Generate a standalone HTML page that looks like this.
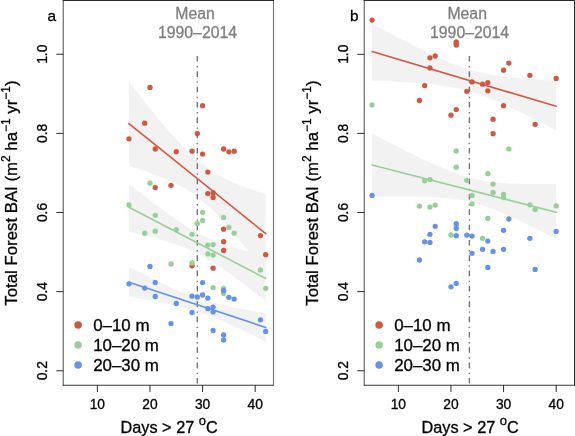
<!DOCTYPE html>
<html><head><meta charset="utf-8"><style>
html,body{margin:0;padding:0;background:#fff;}
svg{display:block;will-change:transform;}
text{font-family:"Liberation Sans", sans-serif;fill:#000;stroke:#000;stroke-width:0.3px;}
text.g{fill:#7f7f7f;stroke:#7f7f7f;}
</style></head><body>
<svg width="575" height="436" viewBox="0 0 575 436">
<rect width="575" height="436" fill="#fff"/>
<polygon fill="#F2F2F2" points="128.94,81.65 130.68,83.87 132.41,86.09 134.14,88.30 135.87,90.51 137.60,92.71 139.33,94.91 141.06,97.10 142.79,99.29 144.53,101.47 146.26,103.64 147.99,105.81 149.72,107.97 151.45,110.12 153.18,112.26 154.91,114.39 156.64,116.52 158.37,118.63 160.11,120.73 161.84,122.81 163.57,124.89 165.30,126.95 167.03,128.99 168.76,131.01 170.49,133.02 172.22,135.01 173.95,136.97 175.69,138.92 177.42,140.83 179.15,142.72 180.88,144.59 182.61,146.42 184.34,148.22 186.07,149.98 187.80,151.71 189.53,153.39 191.27,155.04 193.00,156.65 194.73,158.21 196.46,159.72 198.19,161.19 199.92,162.62 201.65,164.00 203.38,165.33 205.11,166.61 206.85,167.85 208.58,169.04 210.31,170.20 212.04,171.31 213.77,172.38 215.50,173.41 217.23,174.41 218.96,175.37 220.70,176.30 222.43,177.21 224.16,178.08 225.89,178.93 227.62,179.76 229.35,180.56 231.08,181.35 232.81,182.11 234.54,182.86 236.28,183.59 238.01,184.30 239.74,185.00 241.47,185.69 243.20,186.36 244.93,187.03 246.66,187.68 248.39,188.33 250.12,188.96 251.86,189.59 253.59,190.21 255.32,190.82 257.05,191.42 258.78,192.02 260.51,192.61 262.24,193.20 263.97,193.78 265.70,194.36 265.70,272.84 263.97,270.64 262.24,268.43 260.51,266.24 258.78,264.05 257.05,261.87 255.32,259.69 253.59,257.52 251.86,255.35 250.12,253.20 248.39,251.05 246.66,248.91 244.93,246.78 243.20,244.67 241.47,242.56 239.74,240.46 238.01,238.38 236.28,236.32 234.54,234.26 232.81,232.23 231.08,230.21 229.35,228.21 227.62,226.23 225.89,224.27 224.16,222.34 222.43,220.44 220.70,218.56 218.96,216.71 217.23,214.89 215.50,213.10 213.77,211.35 212.04,209.64 210.31,207.97 208.58,206.34 206.85,204.75 205.11,203.21 203.38,201.71 201.65,200.26 199.92,198.86 198.19,197.50 196.46,196.19 194.73,194.92 193.00,193.70 191.27,192.52 189.53,191.39 187.80,190.29 186.07,189.24 184.34,188.22 182.61,187.23 180.88,186.28 179.15,185.36 177.42,184.47 175.69,183.61 173.95,182.77 172.22,181.95 170.49,181.15 168.76,180.38 167.03,179.62 165.30,178.88 163.57,178.16 161.84,177.45 160.11,176.75 158.37,176.07 156.64,175.40 154.91,174.74 153.18,174.09 151.45,173.45 149.72,172.82 147.99,172.20 146.26,171.58 144.53,170.97 142.79,170.37 141.06,169.77 139.33,169.18 137.60,168.60 135.87,168.02 134.14,167.44 132.41,166.87 130.68,166.31 128.94,165.75"/>
<polygon fill="#F2F2F2" points="128.94,183.88 130.68,185.25 132.41,186.61 134.14,187.98 135.87,189.34 137.60,190.69 139.33,192.05 141.06,193.40 142.79,194.74 144.53,196.09 146.26,197.43 147.99,198.76 149.72,200.09 151.45,201.42 153.18,202.74 154.91,204.05 156.64,205.36 158.37,206.66 160.11,207.96 161.84,209.25 163.57,210.53 165.30,211.80 167.03,213.06 168.76,214.31 170.49,215.55 172.22,216.78 173.95,217.99 175.69,219.19 177.42,220.38 179.15,221.55 180.88,222.70 182.61,223.84 184.34,224.95 186.07,226.05 187.80,227.13 189.53,228.18 191.27,229.21 193.00,230.21 194.73,231.19 196.46,232.14 198.19,233.07 199.92,233.97 201.65,234.85 203.38,235.69 205.11,236.52 206.85,237.32 208.58,238.09 210.31,238.84 212.04,239.56 213.77,240.27 215.50,240.95 217.23,241.62 218.96,242.26 220.70,242.89 222.43,243.51 224.16,244.10 225.89,244.69 227.62,245.26 229.35,245.82 231.08,246.36 232.81,246.90 234.54,247.43 236.28,247.94 238.01,248.45 239.74,248.96 241.47,249.45 243.20,249.94 244.93,250.42 246.66,250.90 248.39,251.37 250.12,251.83 251.86,252.29 253.59,252.75 255.32,253.20 257.05,253.65 258.78,254.10 260.51,254.54 262.24,254.98 263.97,255.42 265.70,255.85 265.70,301.15 263.97,299.79 262.24,298.43 260.51,297.07 258.78,295.72 257.05,294.37 255.32,293.03 253.59,291.68 251.86,290.35 250.12,289.01 248.39,287.68 246.66,286.36 244.93,285.04 243.20,283.73 241.47,282.42 239.74,281.12 238.01,279.83 236.28,278.54 234.54,277.26 232.81,276.00 231.08,274.74 229.35,273.49 227.62,272.25 225.89,271.03 224.16,269.82 222.43,268.62 220.70,267.44 218.96,266.27 217.23,265.12 215.50,263.99 213.77,262.88 212.04,261.79 210.31,260.72 208.58,259.68 206.85,258.66 205.11,257.66 203.38,256.69 201.65,255.74 199.92,254.82 198.19,253.93 196.46,253.06 194.73,252.22 193.00,251.40 191.27,250.61 189.53,249.85 187.80,249.10 186.07,248.38 184.34,247.68 182.61,247.00 180.88,246.35 179.15,245.70 177.42,245.08 175.69,244.47 173.95,243.88 172.22,243.30 170.49,242.73 168.76,242.18 167.03,241.63 165.30,241.10 163.57,240.57 161.84,240.06 160.11,239.55 158.37,239.05 156.64,238.56 154.91,238.07 153.18,237.59 151.45,237.12 149.72,236.65 147.99,236.18 146.26,235.72 144.53,235.27 142.79,234.82 141.06,234.37 139.33,233.92 137.60,233.48 135.87,233.04 134.14,232.61 132.41,232.18 130.68,231.75 128.94,231.32"/>
<polygon fill="#F2F2F2" points="128.94,266.98 130.68,267.85 132.41,268.72 134.14,269.59 135.87,270.46 137.60,271.32 139.33,272.19 141.06,273.05 142.79,273.91 144.53,274.76 146.26,275.62 147.99,276.47 149.72,277.31 151.45,278.16 153.18,279.00 154.91,279.84 156.64,280.68 158.37,281.51 160.11,282.33 161.84,283.15 163.57,283.97 165.30,284.78 167.03,285.58 168.76,286.38 170.49,287.17 172.22,287.96 173.95,288.73 175.69,289.50 177.42,290.26 179.15,291.01 180.88,291.74 182.61,292.47 184.34,293.18 186.07,293.88 187.80,294.57 189.53,295.24 191.27,295.90 193.00,296.55 194.73,297.17 196.46,297.78 198.19,298.38 199.92,298.96 201.65,299.52 203.38,300.06 205.11,300.59 206.85,301.11 208.58,301.60 210.31,302.09 212.04,302.55 213.77,303.01 215.50,303.45 217.23,303.88 218.96,304.30 220.70,304.71 222.43,305.10 224.16,305.49 225.89,305.87 227.62,306.24 229.35,306.60 231.08,306.96 232.81,307.31 234.54,307.65 236.28,307.99 238.01,308.32 239.74,308.65 241.47,308.97 243.20,309.29 244.93,309.60 246.66,309.91 248.39,310.22 250.12,310.52 251.86,310.83 253.59,311.12 255.32,311.42 257.05,311.71 258.78,312.01 260.51,312.30 262.24,312.58 263.97,312.87 265.70,313.15 265.70,341.65 263.97,340.78 262.24,339.91 260.51,339.05 258.78,338.19 257.05,337.33 255.32,336.47 253.59,335.61 251.86,334.76 250.12,333.91 248.39,333.06 246.66,332.22 244.93,331.38 243.20,330.54 241.47,329.71 239.74,328.88 238.01,328.05 236.28,327.23 234.54,326.42 232.81,325.61 231.08,324.81 229.35,324.01 227.62,323.22 225.89,322.44 224.16,321.66 222.43,320.90 220.70,320.15 218.96,319.40 217.23,318.67 215.50,317.94 213.77,317.23 212.04,316.54 210.31,315.85 208.58,315.18 206.85,314.53 205.11,313.89 203.38,313.27 201.65,312.66 199.92,312.07 198.19,311.50 196.46,310.94 194.73,310.40 193.00,309.88 191.27,309.37 189.53,308.87 187.80,308.39 186.07,307.93 184.34,307.48 182.61,307.04 180.88,306.61 179.15,306.20 177.42,305.80 175.69,305.40 173.95,305.02 172.22,304.64 170.49,304.27 168.76,303.91 167.03,303.56 165.30,303.21 163.57,302.87 161.84,302.53 160.11,302.20 158.37,301.88 156.64,301.56 154.91,301.24 153.18,300.92 151.45,300.61 149.72,300.31 147.99,300.00 146.26,299.70 144.53,299.41 142.79,299.11 141.06,298.82 139.33,298.53 137.60,298.24 135.87,297.95 134.14,297.66 132.41,297.38 130.68,297.10 128.94,296.82"/>
<line x1="197.32" y1="56" x2="197.32" y2="385" stroke="#707070" stroke-width="1.35" stroke-dasharray="5.6 4.5 1.4 3.83"/>
<line x1="128.94" y1="123.60" x2="265.70" y2="233.60" stroke="#CF5841" stroke-width="1.6" stroke-linecap="round"/>
<line x1="128.94" y1="207.20" x2="265.70" y2="278.50" stroke="#98CE98" stroke-width="1.6" stroke-linecap="round"/>
<line x1="128.94" y1="282.20" x2="265.70" y2="327.40" stroke="#6492EA" stroke-width="1.6" stroke-linecap="round"/>
<circle cx="149.98" cy="87.40" r="2.65" fill="#CF5841"/>
<circle cx="202.58" cy="105.70" r="2.65" fill="#CF5841"/>
<circle cx="144.72" cy="123.20" r="2.65" fill="#CF5841"/>
<circle cx="197.32" cy="133.60" r="2.65" fill="#CF5841"/>
<circle cx="128.94" cy="138.80" r="2.65" fill="#CF5841"/>
<circle cx="155.24" cy="149.00" r="2.65" fill="#CF5841"/>
<circle cx="176.28" cy="151.70" r="2.65" fill="#CF5841"/>
<circle cx="192.06" cy="151.20" r="2.65" fill="#CF5841"/>
<circle cx="202.58" cy="154.10" r="2.65" fill="#CF5841"/>
<circle cx="223.62" cy="149.00" r="2.65" fill="#CF5841"/>
<circle cx="228.88" cy="151.80" r="2.65" fill="#CF5841"/>
<circle cx="234.14" cy="151.20" r="2.65" fill="#CF5841"/>
<circle cx="207.84" cy="172.10" r="2.65" fill="#CF5841"/>
<circle cx="155.24" cy="187.60" r="2.65" fill="#CF5841"/>
<circle cx="171.02" cy="185.30" r="2.65" fill="#CF5841"/>
<circle cx="207.84" cy="193.60" r="2.65" fill="#CF5841"/>
<circle cx="213.10" cy="192.70" r="2.65" fill="#CF5841"/>
<circle cx="213.10" cy="197.40" r="2.65" fill="#CF5841"/>
<circle cx="223.62" cy="229.20" r="2.65" fill="#CF5841"/>
<circle cx="260.44" cy="235.60" r="2.65" fill="#CF5841"/>
<circle cx="223.62" cy="241.70" r="2.65" fill="#CF5841"/>
<circle cx="223.62" cy="250.50" r="2.65" fill="#CF5841"/>
<circle cx="265.70" cy="254.70" r="2.65" fill="#CF5841"/>
<circle cx="192.06" cy="265.80" r="2.65" fill="#CF5841"/>
<circle cx="213.10" cy="268.20" r="2.65" fill="#CF5841"/>
<circle cx="149.98" cy="183.20" r="2.65" fill="#98CE98"/>
<circle cx="128.94" cy="204.90" r="2.65" fill="#98CE98"/>
<circle cx="155.24" cy="215.30" r="2.65" fill="#98CE98"/>
<circle cx="144.72" cy="233.20" r="2.65" fill="#98CE98"/>
<circle cx="155.24" cy="231.20" r="2.65" fill="#98CE98"/>
<circle cx="176.28" cy="229.70" r="2.65" fill="#98CE98"/>
<circle cx="192.06" cy="234.30" r="2.65" fill="#98CE98"/>
<circle cx="197.32" cy="223.50" r="2.65" fill="#98CE98"/>
<circle cx="202.58" cy="212.30" r="2.65" fill="#98CE98"/>
<circle cx="202.58" cy="220.40" r="2.65" fill="#98CE98"/>
<circle cx="223.62" cy="217.40" r="2.65" fill="#98CE98"/>
<circle cx="228.88" cy="227.40" r="2.65" fill="#98CE98"/>
<circle cx="234.14" cy="233.20" r="2.65" fill="#98CE98"/>
<circle cx="207.84" cy="245.10" r="2.65" fill="#98CE98"/>
<circle cx="213.10" cy="244.60" r="2.65" fill="#98CE98"/>
<circle cx="207.84" cy="253.90" r="2.65" fill="#98CE98"/>
<circle cx="213.10" cy="255.10" r="2.65" fill="#98CE98"/>
<circle cx="171.02" cy="263.90" r="2.65" fill="#98CE98"/>
<circle cx="192.06" cy="262.90" r="2.65" fill="#98CE98"/>
<circle cx="260.44" cy="269.90" r="2.65" fill="#98CE98"/>
<circle cx="265.70" cy="288.30" r="2.65" fill="#98CE98"/>
<circle cx="213.10" cy="287.70" r="2.65" fill="#98CE98"/>
<circle cx="223.62" cy="288.40" r="2.65" fill="#98CE98"/>
<circle cx="223.62" cy="293.50" r="2.65" fill="#98CE98"/>
<circle cx="149.98" cy="266.50" r="2.65" fill="#6492EA"/>
<circle cx="128.94" cy="283.80" r="2.65" fill="#6492EA"/>
<circle cx="144.72" cy="288.10" r="2.65" fill="#6492EA"/>
<circle cx="155.24" cy="282.50" r="2.65" fill="#6492EA"/>
<circle cx="155.24" cy="296.50" r="2.65" fill="#6492EA"/>
<circle cx="176.28" cy="303.50" r="2.65" fill="#6492EA"/>
<circle cx="192.06" cy="296.20" r="2.65" fill="#6492EA"/>
<circle cx="197.32" cy="297.00" r="2.65" fill="#6492EA"/>
<circle cx="202.58" cy="295.00" r="2.65" fill="#6492EA"/>
<circle cx="202.58" cy="282.60" r="2.65" fill="#6492EA"/>
<circle cx="207.84" cy="298.10" r="2.65" fill="#6492EA"/>
<circle cx="223.62" cy="290.60" r="2.65" fill="#6492EA"/>
<circle cx="228.88" cy="297.30" r="2.65" fill="#6492EA"/>
<circle cx="234.14" cy="299.10" r="2.65" fill="#6492EA"/>
<circle cx="192.06" cy="312.50" r="2.65" fill="#6492EA"/>
<circle cx="207.84" cy="308.70" r="2.65" fill="#6492EA"/>
<circle cx="213.10" cy="307.10" r="2.65" fill="#6492EA"/>
<circle cx="213.10" cy="311.90" r="2.65" fill="#6492EA"/>
<circle cx="171.02" cy="323.60" r="2.65" fill="#6492EA"/>
<circle cx="260.44" cy="319.80" r="2.65" fill="#6492EA"/>
<circle cx="265.70" cy="331.40" r="2.65" fill="#6492EA"/>
<circle cx="213.10" cy="330.50" r="2.65" fill="#6492EA"/>
<circle cx="223.62" cy="335.00" r="2.65" fill="#6492EA"/>
<circle cx="223.62" cy="340.00" r="2.65" fill="#6492EA"/>
<line x1="63.25" y1="0" x2="63.25" y2="385.7" stroke="#555" stroke-width="1.05"/>
<line x1="273.50" y1="0" x2="273.50" y2="385.7" stroke="#707070" stroke-width="1.10"/>
<line x1="62.75" y1="385.2" x2="274.00" y2="385.2" stroke="#3a3a3a" stroke-width="1.05"/>
<line x1="62.75" y1="0.45" x2="274.00" y2="0.45" stroke="#2a2a2a" stroke-width="1.05"/>
<line x1="56.30" y1="370.76" x2="63.25" y2="370.76" stroke="#2a2a2a" stroke-width="1"/>
<text transform="translate(47.40,370.76) rotate(-90)" text-anchor="middle" font-size="13.8">0.2</text>
<line x1="56.30" y1="291.64" x2="63.25" y2="291.64" stroke="#2a2a2a" stroke-width="1"/>
<text transform="translate(47.40,291.64) rotate(-90)" text-anchor="middle" font-size="13.8">0.4</text>
<line x1="56.30" y1="212.52" x2="63.25" y2="212.52" stroke="#2a2a2a" stroke-width="1"/>
<text transform="translate(47.40,212.52) rotate(-90)" text-anchor="middle" font-size="13.8">0.6</text>
<line x1="56.30" y1="133.40" x2="63.25" y2="133.40" stroke="#2a2a2a" stroke-width="1"/>
<text transform="translate(47.40,133.40) rotate(-90)" text-anchor="middle" font-size="13.8">0.8</text>
<line x1="56.30" y1="54.28" x2="63.25" y2="54.28" stroke="#2a2a2a" stroke-width="1"/>
<text transform="translate(47.40,54.28) rotate(-90)" text-anchor="middle" font-size="13.8">1.0</text>
<line x1="97.38" y1="385" x2="97.38" y2="392" stroke="#2a2a2a" stroke-width="1"/>
<text x="97.38" y="409.2" text-anchor="middle" font-size="13.8">10</text>
<line x1="149.98" y1="385" x2="149.98" y2="392" stroke="#2a2a2a" stroke-width="1"/>
<text x="149.98" y="409.2" text-anchor="middle" font-size="13.8">20</text>
<line x1="202.58" y1="385" x2="202.58" y2="392" stroke="#2a2a2a" stroke-width="1"/>
<text x="202.58" y="409.2" text-anchor="middle" font-size="13.8">30</text>
<line x1="255.18" y1="385" x2="255.18" y2="392" stroke="#2a2a2a" stroke-width="1"/>
<text x="255.18" y="409.2" text-anchor="middle" font-size="13.8">40</text>
<text x="120.50" y="432.5" font-size="16.3">Days &gt; 27 <tspan font-size="13" dy="-7.5">o</tspan><tspan dy="7.5">C</tspan></text>
<text transform="translate(16.90,193) rotate(-90)" text-anchor="middle" font-size="16.8">Total Forest BAI (m<tspan font-size="12" dy="-6.5">2</tspan><tspan dy="6.5"> ha</tspan><tspan font-size="12" dy="-6.5">−1</tspan><tspan dy="6.5"> yr</tspan><tspan font-size="12" dy="-6.5">−1</tspan><tspan dy="6.5">)</tspan></text>
<text x="47.60" y="21.2" font-size="15.4" style="stroke-width:0.3px">a</text>
<text x="195.12" y="18.6" text-anchor="middle" font-size="15.8" class="g">Mean</text>
<text x="197.52" y="38.4" text-anchor="middle" font-size="15.8" class="g">1990–2014</text>
<circle cx="78.10" cy="324.90" r="3.75" fill="#CF5841"/>
<text x="93.20" y="330.50" font-size="16.9">0–10 m</text>
<circle cx="78.10" cy="345.00" r="3.75" fill="#98CE98"/>
<text x="93.20" y="350.50" font-size="16.9">10–20 m</text>
<circle cx="78.10" cy="365.10" r="3.75" fill="#6492EA"/>
<text x="93.20" y="370.50" font-size="16.9">20–30 m</text>
<polygon fill="#F2F2F2" points="372.08,23.99 374.42,25.23 376.75,26.47 379.08,27.71 381.41,28.94 383.74,30.17 386.07,31.40 388.40,32.63 390.73,33.85 393.06,35.07 395.39,36.28 397.72,37.50 400.05,38.70 402.38,39.91 404.71,41.11 407.04,42.30 409.37,43.49 411.70,44.67 414.03,45.85 416.36,47.02 418.69,48.18 421.02,49.33 423.35,50.47 425.68,51.61 428.01,52.73 430.34,53.85 432.67,54.95 435.01,56.03 437.34,57.11 439.67,58.16 442.00,59.20 444.33,60.22 446.66,61.22 448.99,62.20 451.32,63.15 453.65,64.08 455.98,64.98 458.31,65.86 460.64,66.70 462.97,67.51 465.30,68.29 467.63,69.03 469.96,69.74 472.29,70.42 474.62,71.06 476.95,71.67 479.28,72.24 481.61,72.78 483.94,73.29 486.27,73.77 488.60,74.22 490.93,74.64 493.26,75.04 495.59,75.41 497.93,75.76 500.26,76.09 502.59,76.40 504.92,76.70 507.25,76.98 509.58,77.24 511.91,77.49 514.24,77.73 516.57,77.96 518.90,78.17 521.23,78.38 523.56,78.58 525.89,78.76 528.22,78.95 530.55,79.12 532.88,79.29 535.21,79.45 537.54,79.61 539.87,79.76 542.20,79.91 544.53,80.05 546.86,80.19 549.19,80.32 551.52,80.46 553.85,80.58 556.18,80.71 556.18,130.39 553.85,129.17 551.52,127.94 549.19,126.72 546.86,125.51 544.53,124.30 542.20,123.09 539.87,121.89 537.54,120.69 535.21,119.49 532.88,118.30 530.55,117.12 528.22,115.95 525.89,114.78 523.56,113.62 521.23,112.46 518.90,111.32 516.57,110.18 514.24,109.06 511.91,107.95 509.58,106.85 507.25,105.76 504.92,104.69 502.59,103.63 500.26,102.59 497.93,101.57 495.59,100.57 493.26,99.60 490.93,98.64 488.60,97.72 486.27,96.81 483.94,95.94 481.61,95.10 479.28,94.29 476.95,93.51 474.62,92.77 472.29,92.06 469.96,91.38 467.63,90.74 465.30,90.14 462.97,89.57 460.64,89.03 458.31,88.52 455.98,88.04 453.65,87.59 451.32,87.17 448.99,86.77 446.66,86.40 444.33,86.05 442.00,85.72 439.67,85.41 437.34,85.11 435.01,84.83 432.67,84.57 430.34,84.32 428.01,84.08 425.68,83.85 423.35,83.64 421.02,83.43 418.69,83.24 416.36,83.05 414.03,82.87 411.70,82.69 409.37,82.52 407.04,82.36 404.71,82.20 402.38,82.05 400.05,81.90 397.72,81.76 395.39,81.62 393.06,81.49 390.73,81.36 388.40,81.23 386.07,81.10 383.74,80.98 381.41,80.86 379.08,80.75 376.75,80.63 374.42,80.52 372.08,80.41"/>
<polygon fill="#F2F2F2" points="372.08,133.47 374.42,134.69 376.75,135.90 379.08,137.12 381.41,138.33 383.74,139.54 386.07,140.74 388.40,141.95 390.73,143.15 393.06,144.34 395.39,145.54 397.72,146.72 400.05,147.91 402.38,149.09 404.71,150.26 407.04,151.43 409.37,152.59 411.70,153.74 414.03,154.89 416.36,156.03 418.69,157.17 421.02,158.29 423.35,159.41 425.68,160.51 428.01,161.60 430.34,162.68 432.67,163.75 435.01,164.80 437.34,165.84 439.67,166.86 442.00,167.85 444.33,168.83 446.66,169.79 448.99,170.72 451.32,171.63 453.65,172.51 455.98,173.36 458.31,174.17 460.64,174.96 462.97,175.71 465.30,176.42 467.63,177.09 469.96,177.73 472.29,178.33 474.62,178.89 476.95,179.41 479.28,179.89 481.61,180.34 483.94,180.75 486.27,181.12 488.60,181.46 490.93,181.78 493.26,182.06 495.59,182.32 497.93,182.55 500.26,182.75 502.59,182.94 504.92,183.11 507.25,183.25 509.58,183.38 511.91,183.50 514.24,183.60 516.57,183.69 518.90,183.76 521.23,183.83 523.56,183.88 525.89,183.93 528.22,183.97 530.55,184.00 532.88,184.02 535.21,184.03 537.54,184.04 539.87,184.04 542.20,184.04 544.53,184.03 546.86,184.02 549.19,184.01 551.52,183.99 553.85,183.96 556.18,183.93 556.18,239.07 553.85,237.86 551.52,236.67 549.19,235.47 546.86,234.28 544.53,233.10 542.20,231.92 539.87,230.74 537.54,229.57 535.21,228.41 532.88,227.25 530.55,226.10 528.22,224.95 525.89,223.82 523.56,222.69 521.23,221.57 518.90,220.46 516.57,219.36 514.24,218.28 511.91,217.21 509.58,216.15 507.25,215.11 504.92,214.08 502.59,213.07 500.26,212.08 497.93,211.12 495.59,210.18 493.26,209.26 490.93,208.37 488.60,207.51 486.27,206.68 483.94,205.88 481.61,205.11 479.28,204.39 476.95,203.70 474.62,203.04 472.29,202.43 469.96,201.85 467.63,201.32 465.30,200.82 462.97,200.36 460.64,199.93 458.31,199.54 455.98,199.19 453.65,198.86 451.32,198.57 448.99,198.30 446.66,198.06 444.33,197.84 442.00,197.65 439.67,197.47 437.34,197.32 435.01,197.18 432.67,197.06 430.34,196.95 428.01,196.86 425.68,196.78 423.35,196.71 421.02,196.65 418.69,196.60 416.36,196.56 414.03,196.53 411.70,196.50 409.37,196.49 407.04,196.47 404.71,196.47 402.38,196.47 400.05,196.47 397.72,196.48 395.39,196.50 393.06,196.52 390.73,196.54 388.40,196.57 386.07,196.60 383.74,196.63 381.41,196.66 379.08,196.70 376.75,196.74 374.42,196.79 372.08,196.83"/>
<line x1="469.39" y1="56" x2="469.39" y2="385" stroke="#707070" stroke-width="1.35" stroke-dasharray="5.6 4.5 1.4 3.83"/>
<line x1="372.08" y1="51.50" x2="556.18" y2="106.30" stroke="#CF5841" stroke-width="1.6" stroke-linecap="round"/>
<line x1="372.08" y1="164.90" x2="556.18" y2="212.20" stroke="#98CE98" stroke-width="1.6" stroke-linecap="round"/>
<circle cx="372.08" cy="20.10" r="2.65" fill="#CF5841"/>
<circle cx="456.24" cy="41.80" r="2.65" fill="#CF5841"/>
<circle cx="456.24" cy="43.40" r="2.65" fill="#CF5841"/>
<circle cx="456.24" cy="45.00" r="2.65" fill="#CF5841"/>
<circle cx="429.94" cy="57.80" r="2.65" fill="#CF5841"/>
<circle cx="435.20" cy="56.00" r="2.65" fill="#CF5841"/>
<circle cx="429.94" cy="68.00" r="2.65" fill="#CF5841"/>
<circle cx="424.68" cy="85.60" r="2.65" fill="#CF5841"/>
<circle cx="419.42" cy="100.50" r="2.65" fill="#CF5841"/>
<circle cx="472.02" cy="81.90" r="2.65" fill="#CF5841"/>
<circle cx="466.76" cy="91.30" r="2.65" fill="#CF5841"/>
<circle cx="482.54" cy="84.20" r="2.65" fill="#CF5841"/>
<circle cx="487.80" cy="82.60" r="2.65" fill="#CF5841"/>
<circle cx="487.80" cy="90.80" r="2.65" fill="#CF5841"/>
<circle cx="503.58" cy="70.20" r="2.65" fill="#CF5841"/>
<circle cx="508.84" cy="63.10" r="2.65" fill="#CF5841"/>
<circle cx="503.58" cy="105.70" r="2.65" fill="#CF5841"/>
<circle cx="456.24" cy="109.60" r="2.65" fill="#CF5841"/>
<circle cx="450.98" cy="115.20" r="2.65" fill="#CF5841"/>
<circle cx="493.06" cy="119.20" r="2.65" fill="#CF5841"/>
<circle cx="493.06" cy="133.70" r="2.65" fill="#CF5841"/>
<circle cx="529.88" cy="75.30" r="2.65" fill="#CF5841"/>
<circle cx="556.18" cy="78.40" r="2.65" fill="#CF5841"/>
<circle cx="535.14" cy="124.30" r="2.65" fill="#CF5841"/>
<circle cx="372.08" cy="104.90" r="2.65" fill="#98CE98"/>
<circle cx="456.24" cy="150.90" r="2.65" fill="#98CE98"/>
<circle cx="456.24" cy="167.20" r="2.65" fill="#98CE98"/>
<circle cx="508.84" cy="148.90" r="2.65" fill="#98CE98"/>
<circle cx="487.80" cy="173.70" r="2.65" fill="#98CE98"/>
<circle cx="493.06" cy="184.10" r="2.65" fill="#98CE98"/>
<circle cx="493.06" cy="192.40" r="2.65" fill="#98CE98"/>
<circle cx="503.58" cy="194.40" r="2.65" fill="#98CE98"/>
<circle cx="503.58" cy="197.50" r="2.65" fill="#98CE98"/>
<circle cx="424.68" cy="180.80" r="2.65" fill="#98CE98"/>
<circle cx="429.94" cy="179.60" r="2.65" fill="#98CE98"/>
<circle cx="466.76" cy="180.30" r="2.65" fill="#98CE98"/>
<circle cx="472.02" cy="195.40" r="2.65" fill="#98CE98"/>
<circle cx="472.02" cy="203.80" r="2.65" fill="#98CE98"/>
<circle cx="419.42" cy="206.10" r="2.65" fill="#98CE98"/>
<circle cx="429.94" cy="207.10" r="2.65" fill="#98CE98"/>
<circle cx="435.20" cy="205.10" r="2.65" fill="#98CE98"/>
<circle cx="529.88" cy="204.80" r="2.65" fill="#98CE98"/>
<circle cx="535.14" cy="209.50" r="2.65" fill="#98CE98"/>
<circle cx="556.18" cy="205.90" r="2.65" fill="#98CE98"/>
<circle cx="487.80" cy="218.40" r="2.65" fill="#98CE98"/>
<circle cx="450.98" cy="235.00" r="2.65" fill="#98CE98"/>
<circle cx="482.54" cy="238.30" r="2.65" fill="#98CE98"/>
<circle cx="456.24" cy="226.20" r="2.65" fill="#98CE98"/>
<circle cx="372.08" cy="195.40" r="2.65" fill="#6492EA"/>
<circle cx="508.84" cy="219.00" r="2.65" fill="#6492EA"/>
<circle cx="435.20" cy="226.30" r="2.65" fill="#6492EA"/>
<circle cx="456.24" cy="223.70" r="2.65" fill="#6492EA"/>
<circle cx="456.24" cy="228.60" r="2.65" fill="#6492EA"/>
<circle cx="429.94" cy="234.30" r="2.65" fill="#6492EA"/>
<circle cx="456.24" cy="235.70" r="2.65" fill="#6492EA"/>
<circle cx="466.76" cy="235.10" r="2.65" fill="#6492EA"/>
<circle cx="472.02" cy="236.10" r="2.65" fill="#6492EA"/>
<circle cx="487.80" cy="241.10" r="2.65" fill="#6492EA"/>
<circle cx="503.58" cy="230.30" r="2.65" fill="#6492EA"/>
<circle cx="424.68" cy="241.80" r="2.65" fill="#6492EA"/>
<circle cx="429.94" cy="242.40" r="2.65" fill="#6492EA"/>
<circle cx="482.54" cy="249.30" r="2.65" fill="#6492EA"/>
<circle cx="493.06" cy="251.50" r="2.65" fill="#6492EA"/>
<circle cx="503.58" cy="249.30" r="2.65" fill="#6492EA"/>
<circle cx="472.02" cy="253.40" r="2.65" fill="#6492EA"/>
<circle cx="419.42" cy="260.00" r="2.65" fill="#6492EA"/>
<circle cx="487.80" cy="267.40" r="2.65" fill="#6492EA"/>
<circle cx="450.98" cy="286.80" r="2.65" fill="#6492EA"/>
<circle cx="456.24" cy="283.40" r="2.65" fill="#6492EA"/>
<circle cx="529.88" cy="238.30" r="2.65" fill="#6492EA"/>
<circle cx="556.18" cy="231.40" r="2.65" fill="#6492EA"/>
<circle cx="535.14" cy="269.40" r="2.65" fill="#6492EA"/>
<line x1="364.25" y1="0" x2="364.25" y2="385.7" stroke="#555" stroke-width="1.05"/>
<line x1="574.50" y1="0" x2="574.50" y2="385.7" stroke="#2a2a2a" stroke-width="1.05"/>
<line x1="363.75" y1="385.2" x2="575.00" y2="385.2" stroke="#3a3a3a" stroke-width="1.05"/>
<line x1="363.75" y1="0.45" x2="575.00" y2="0.45" stroke="#2a2a2a" stroke-width="1.05"/>
<line x1="357.30" y1="370.76" x2="364.25" y2="370.76" stroke="#2a2a2a" stroke-width="1"/>
<text transform="translate(348.40,370.76) rotate(-90)" text-anchor="middle" font-size="13.8">0.2</text>
<line x1="357.30" y1="291.64" x2="364.25" y2="291.64" stroke="#2a2a2a" stroke-width="1"/>
<text transform="translate(348.40,291.64) rotate(-90)" text-anchor="middle" font-size="13.8">0.4</text>
<line x1="357.30" y1="212.52" x2="364.25" y2="212.52" stroke="#2a2a2a" stroke-width="1"/>
<text transform="translate(348.40,212.52) rotate(-90)" text-anchor="middle" font-size="13.8">0.6</text>
<line x1="357.30" y1="133.40" x2="364.25" y2="133.40" stroke="#2a2a2a" stroke-width="1"/>
<text transform="translate(348.40,133.40) rotate(-90)" text-anchor="middle" font-size="13.8">0.8</text>
<line x1="357.30" y1="54.28" x2="364.25" y2="54.28" stroke="#2a2a2a" stroke-width="1"/>
<text transform="translate(348.40,54.28) rotate(-90)" text-anchor="middle" font-size="13.8">1.0</text>
<line x1="398.38" y1="385" x2="398.38" y2="392" stroke="#2a2a2a" stroke-width="1"/>
<text x="398.38" y="409.2" text-anchor="middle" font-size="13.8">10</text>
<line x1="450.98" y1="385" x2="450.98" y2="392" stroke="#2a2a2a" stroke-width="1"/>
<text x="450.98" y="409.2" text-anchor="middle" font-size="13.8">20</text>
<line x1="503.58" y1="385" x2="503.58" y2="392" stroke="#2a2a2a" stroke-width="1"/>
<text x="503.58" y="409.2" text-anchor="middle" font-size="13.8">30</text>
<line x1="556.18" y1="385" x2="556.18" y2="392" stroke="#2a2a2a" stroke-width="1"/>
<text x="556.18" y="409.2" text-anchor="middle" font-size="13.8">40</text>
<text x="421.50" y="432.5" font-size="16.3">Days &gt; 27 <tspan font-size="13" dy="-7.5">o</tspan><tspan dy="7.5">C</tspan></text>
<text transform="translate(317.90,193) rotate(-90)" text-anchor="middle" font-size="16.8">Total Forest BAI (m<tspan font-size="12" dy="-6.5">2</tspan><tspan dy="6.5"> ha</tspan><tspan font-size="12" dy="-6.5">−1</tspan><tspan dy="6.5"> yr</tspan><tspan font-size="12" dy="-6.5">−1</tspan><tspan dy="6.5">)</tspan></text>
<text x="349.90" y="21.2" font-size="15.4" style="stroke-width:0.3px">b</text>
<text x="467.19" y="18.6" text-anchor="middle" font-size="15.8" class="g">Mean</text>
<text x="469.59" y="38.4" text-anchor="middle" font-size="15.8" class="g">1990–2014</text>
<circle cx="379.10" cy="324.90" r="3.75" fill="#CF5841"/>
<text x="394.20" y="330.50" font-size="16.9">0–10 m</text>
<circle cx="379.10" cy="345.00" r="3.75" fill="#98CE98"/>
<text x="394.20" y="350.50" font-size="16.9">10–20 m</text>
<circle cx="379.10" cy="365.10" r="3.75" fill="#6492EA"/>
<text x="394.20" y="370.50" font-size="16.9">20–30 m</text>
</svg>
</body></html>
